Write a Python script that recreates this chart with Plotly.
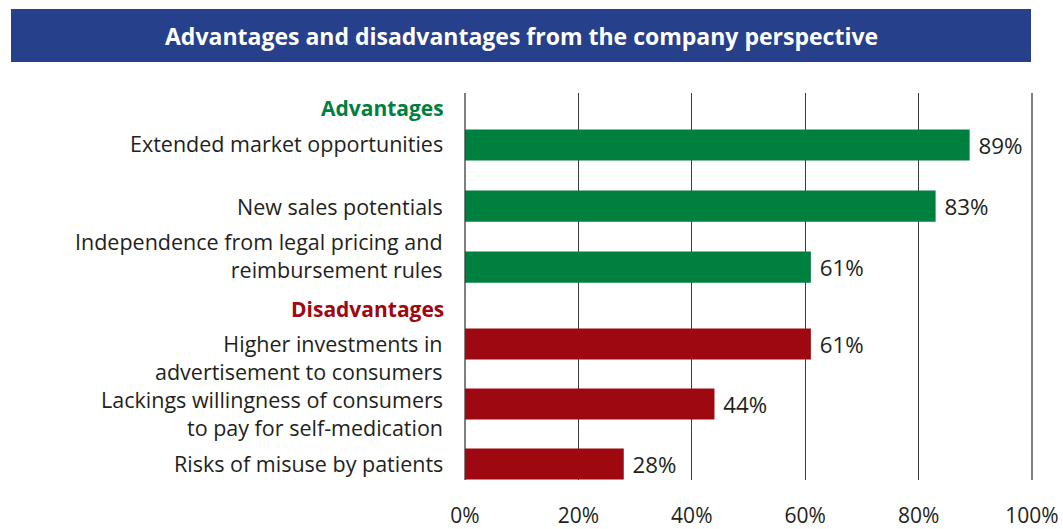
import plotly.graph_objects as go
from plotly.subplots import make_subplots

adv_categories = [
    "Extended market opportunities",
    "New sales potentials",
    "Independence from legal pricing and<br>reimbursement rules",
]
adv_values = [89, 83, 61]
dis_categories = [
    "Higher investments in<br>advertisement to consumers",
    "Lackings willingness of consumers<br>to pay for self-medication",
    "Risks of misuse by patients",
]
dis_values = [61, 44, 28]
x_ticks = [0, 20, 40, 60, 80, 100]
x_tick_labels = ["0%", "20%", "40%", "60%", "80%", "100%"]

GREEN = "#00803f"
RED = "#9e0811"
NAVY = "#27408b"
TEXT = "#231f20"
GRID = "#3c3c3c"
FONT = "Open Sans"

# vertical nudges (px) of the category labels relative to their bars
adv_label_shift = [2, 0, 12]
dis_label_shift = [-13, -10, 0]

W, H = 1063, 529
L, R, T, B = 465, 31, 93, 49
pw, ph = W - L - R, H - T - B

def px_x(p):
    return (p - L) / pw

def px_y(p):
    return (H - B - p) / ph

split = px_y(305)

fig = make_subplots(rows=2, cols=1, shared_xaxes=True, vertical_spacing=0)

label_annotations = []
for row, yref, cats, vals, color, width, shifts in [
    (1, "y", adv_categories, adv_values, GREEN, 0.51, adv_label_shift),
    (2, "y2", dis_categories, dis_values, RED, 0.517, dis_label_shift),
]:
    fig.add_trace(go.Bar(
        x=vals,
        y=cats,
        orientation="h",
        marker=dict(color=color, line=dict(width=0)),
        width=width,
        text=[f" {v}%" for v in vals],
        textposition="outside",
        textfont=dict(family=FONT, size=23, color=TEXT),
        cliponaxis=False,
        hoverinfo="skip",
        showlegend=False,
    ), row=row, col=1)
    for cat, s in zip(cats, shifts):
        label_annotations.append(dict(
            text=cat, xref="paper", yref=yref, x=px_x(445), y=cat,
            xanchor="right", yanchor="middle", align="right", yshift=s,
            showarrow=False, font=dict(family=FONT, size=21.5, color=TEXT),
        ))

common_x = dict(
    range=[0, 100],
    tickvals=x_ticks,
    showgrid=True,
    gridcolor=GRID,
    gridwidth=1.3,
    zeroline=False,
    showline=False,
    ticks="",
    automargin=False,
    fixedrange=True,
)
common_y = dict(
    type="category",
    showgrid=False,
    zeroline=False,
    showline=False,
    ticks="",
    showticklabels=False,
    automargin=False,
    fixedrange=True,
)

fig.update_layout(
    width=W, height=H,
    margin=dict(l=L, r=R, t=T, b=B, autoexpand=False),
    paper_bgcolor="white",
    plot_bgcolor="white",
    showlegend=False,
    font=dict(family=FONT, color=TEXT),
    xaxis=dict(common_x, showticklabels=False),
    xaxis2=dict(common_x, ticktext=x_tick_labels, showticklabels=True,
                ticklabelstandoff=21,
                tickfont=dict(family=FONT, size=21, color=TEXT)),
    yaxis=dict(common_y, domain=[split, 1], categoryorder="array",
               categoryarray=adv_categories, range=[2.62, -0.852]),
    yaxis2=dict(common_y, domain=[0, split], categoryorder="array",
                categoryarray=dis_categories, range=[2.267, -0.65]),
    shapes=[
        dict(type="rect", xref="paper", yref="paper",
             x0=px_x(11), x1=px_x(1031), y0=px_y(62), y1=px_y(9),
             fillcolor=NAVY, line=dict(width=0), layer="below"),
        dict(type="line", xref="paper", yref="paper", x0=0, x1=0, y0=0, y1=1,
             line=dict(color=GRID, width=1.3)),
        dict(type="line", xref="paper", yref="paper", x0=1, x1=1, y0=0, y1=1,
             line=dict(color=GRID, width=1.3)),
    ],
    annotations=[
        dict(text="<b>Advantages and disadvantages from the company perspective</b>",
             xref="paper", yref="paper", x=px_x(521), y=px_y(36),
             xanchor="center", yanchor="middle", showarrow=False,
             font=dict(family=FONT, size=23, color="white")),
        dict(text="<b>Advantages</b>", xref="paper", yref="paper",
             x=px_x(446), y=px_y(108), xanchor="right", yanchor="middle",
             showarrow=False, font=dict(family=FONT, size=21, color=GREEN)),
        dict(text="<b>Disadvantages</b>", xref="paper", yref="paper",
             x=px_x(446), y=px_y(309), xanchor="right", yanchor="middle",
             showarrow=False, font=dict(family=FONT, size=21, color=RED)),
    ] + label_annotations,
)

fig.write_html("out.html", config={"displayModeBar": False},
               post_script="document.body.style.margin='0';")
